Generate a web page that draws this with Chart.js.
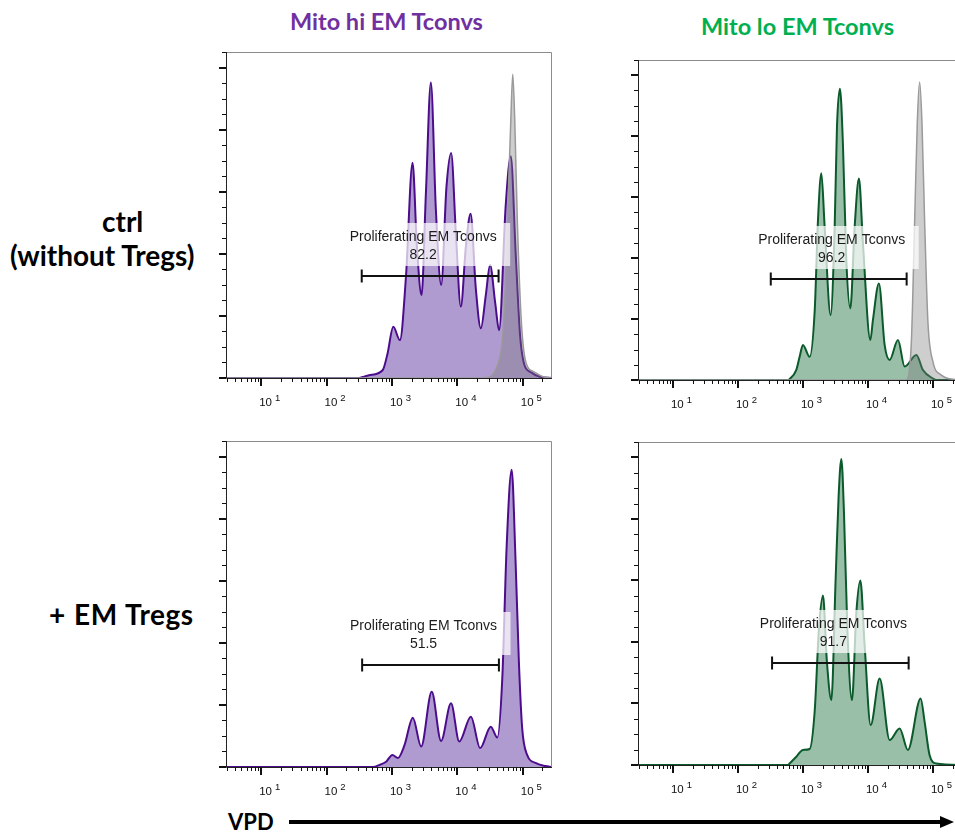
<!DOCTYPE html>
<html>
<head>
<meta charset="utf-8">
<script src="https://cdn.jsdelivr.net/npm/chart.js@4.4.1/dist/chart.umd.min.js"></script>
<style>
  html, body { margin: 0; padding: 0; background: #fff; }
  body { width: 955px; height: 836px; overflow: hidden; position: relative; }
  .panel { position: absolute; }
  .txt { position: absolute; font-family: Lato, "Open Sans", sans-serif; font-weight: 700; white-space: nowrap; line-height: 1; }
  .col-title { font-size: 23.5px; }
  .row-label { font-size: 28px; color: #000; }
  #axisLine { position: absolute; left: 289px; top: 820px; width: 652px; height: 4px; background: #000; }
  #axisHead { position: absolute; left: 940px; top: 816px; width: 0; height: 0;
              border-top: 6px solid transparent; border-bottom: 6px solid transparent; border-left: 14px solid #000; }
</style>
</head>
<body>
<div class="txt col-title" style="left:290px; top:10px; color:#7030A0;">Mito hi EM Tconvs</div>
<div class="txt col-title" style="left:701px; top:15px; color:#00B050;">Mito lo EM Tconvs</div>
<div class="txt row-label" style="left:102px; top:207px;">ctrl</div>
<div class="txt row-label" style="left:10px; top:241px;">(without Tregs)</div>
<div class="txt row-label" style="left:49px; top:600px; word-spacing:1px; letter-spacing:0.5px;">+ EM Tregs</div>
<div class="txt" style="left:228px; top:811px; font-size:22px;">VPD</div>
<div id="axisLine"></div>
<div id="axisHead"></div>

<div class="panel" style="left:214px; top:48px;"><canvas id="cTL" width="350" height="370"></canvas></div>
<div class="panel" style="left:626px; top:56px;"><canvas id="cTR" width="348" height="364"></canvas></div>
<div class="panel" style="left:214px; top:437px;"><canvas id="cBL" width="350" height="370"></canvas></div>
<div class="panel" style="left:626px; top:438px;"><canvas id="cBR" width="348" height="367"></canvas></div>

<script>
// VPD intensity (x) and % of max count (y) for each histogram.
// Mito hi EM Tconvs, no Tregs
const hiCtrlX = [2.9, 316, 355, 447, 720, 857, 1047, 1324, 1637, 2065, 2410, 2833, 3305, 3936, 4695, 5662, 6823, 8040, 9490, 11300, 13490, 15960, 19140, 22860, 27230, 31620, 38000, 43450, 54950, 65610, 78160, 90970, 104700, 132400, 188400, 280000];
const hiCtrlY = [0, 0, 0.3, 0.9, 2.5, 7.9, 16.5, 12.2, 32.6, 69.3, 42.3, 26.7, 59.6, 95.2, 54.2, 30, 61.7, 72.5, 46.7, 23, 42.3, 52.9, 28.9, 16, 26.7, 36.4, 24, 15.4, 55.8, 71.4, 39.7, 13.8, 4.6, 1.9, 0.3, 0];
// Undivided reference, Mito hi
const hiRefX = [2.9, 25650, 40930, 51760, 58210, 65610, 70310, 75510, 82750, 95290, 111200, 148900, 211300, 280000];
const hiRefY = [0, 0, 4, 20, 50, 82.7, 97.8, 82.7, 50, 18, 5.2, 2, 0.3, 0];
// Mito lo EM Tconvs, no Tregs
const loCtrlX = [2.9, 590, 620, 791, 889, 1000, 1268, 1519, 1704, 1919, 2158, 2667, 3076, 3337, 3706, 4121, 4652, 5358, 6237, 7273, 8380, 10890, 11940, 14760, 18070, 21580, 28970, 36740, 55590, 70150, 100000, 112700, 280000];
const loCtrlY = [0, 0, 0.3, 3.3, 7.6, 11.5, 7.6, 23, 52.5, 67.8, 50.3, 21.3, 50, 83, 95.6, 77.6, 39.3, 23.5, 50, 66.1, 44.8, 13.1, 19.7, 31.7, 11.5, 6.6, 13.1, 4.4, 8.2, 3.3, 0.5, 0, 0];
// Undivided reference, Mito lo
const loRefX = [2.9, 38990, 46590, 52290, 57490, 62390, 67720, 74510, 83690, 100000, 134600, 180700, 280000];
const loRefY = [0, 0, 12.6, 52, 84.7, 97.8, 84.7, 52, 19.1, 6, 1.6, 0.4, 0];
// Mito hi EM Tconvs + EM Tregs
const hiTregX = [2.9, 514, 650, 822, 1014, 1234, 1559, 2084, 2797, 4055, 5633, 8000, 10690, 16100, 22300, 32430, 40830, 48640, 56750, 67610, 77800, 87300, 97960, 116700, 156600, 222300, 280000];
const hiTregY = [0, 0, 0.7, 1.8, 3.9, 2.9, 7.1, 15.9, 6.6, 24.2, 8.4, 20.5, 8.2, 16.2, 6.1, 13, 9.5, 28.5, 71.2, 95.7, 65.8, 33.8, 12.5, 3.9, 1.3, 0.3, 0];
// Mito lo EM Tconvs + EM Tregs
const loTregX = [2.9, 590, 624, 791, 1000, 1268, 1514, 1763, 2031, 2339, 2735, 3186, 3542, 3899, 4276, 4822, 5675, 6637, 7643, 8897, 11010, 15140, 21580, 30760, 41210, 64710, 74510, 88920, 112700, 280000];
const loTregY = [0, 0, 0.5, 2.7, 4.9, 5.2, 17.3, 44.3, 55.1, 33.5, 21.1, 60.6, 87.6, 99.5, 82.2, 44.3, 21.1, 49.7, 60, 38.9, 13, 28.1, 8.1, 11.9, 4.9, 21.6, 14, 3.2, 0.5, 0];

// "Proliferating EM Tconvs" gate: [low, high] VPD bounds and % of events inside
const gateLabel = 'Proliferating EM Tconvs';
const gateHiCtrl = [345, 42700], pctHiCtrl = '82.2';
const gateLoCtrl = [320, 39400], pctLoCtrl = '96.2';
const gateHiTreg = [350, 43200], pctHiTreg = '51.5';
const gateLoTreg = [335, 42300], pctLoTreg = '91.7';
const gateLevel = 33;

// Axis ticks
const decadeTicks = [10, 100, 1000, 10000, 100000];
const decadeExps = ['1', '2', '3', '4', '5'];
const countMajor = [0, 20, 40, 60, 80, 100];

const X_MIN = 2.9, X_MAX = 280000, Y_MAX = 105;

const purple = { line: '#4b0d8c', fill: '#b09bd0' };
const green  = { line: '#0b5a2c', fill: '#99bfa9' };
const grey   = { line: '#9a9a9a', fill: 'rgba(120,120,120,0.36)' };

function pts(xs, ys) { return xs.map((x, i) => ({ x: x, y: ys[i] })); }

const flowAxes = {
  id: 'flowAxes',
  afterDatasetsDraw(chart, args, opts) {
    const ctx = chart.ctx, a = chart.chartArea;
    const xs = chart.scales.x, ys = chart.scales.y;
    ctx.save();
    // frame
    ctx.lineWidth = 1;
    ctx.strokeStyle = '#8c8c8c';
    ctx.beginPath();
    ctx.moveTo(a.left, a.top + 0.5); ctx.lineTo(a.right - 0.5, a.top + 0.5); ctx.lineTo(a.right - 0.5, a.bottom);
    ctx.stroke();
    ctx.strokeStyle = '#222';
    ctx.beginPath();
    ctx.moveTo(a.left + 0.5, a.top); ctx.lineTo(a.left + 0.5, a.bottom + 0.5); ctx.lineTo(a.right, a.bottom + 0.5);
    ctx.stroke();
    // count ticks (left)
    ctx.strokeStyle = '#111';
    for (let v = 0; v <= Y_MAX; v += 5) {
      const major = countMajor.includes(v);
      const y = Math.round(ys.getPixelForValue(v)) + (major ? 0 : 0.5);
      ctx.lineWidth = major ? 2 : 1;
      ctx.beginPath();
      ctx.moveTo(a.left - (major ? 7 : 4), y); ctx.lineTo(a.left, y);
      ctx.stroke();
    }
    // VPD ticks (bottom)
    const tickVals = [];
    [1, 10, 100, 1000, 10000, 100000].forEach(d => { for (let m = 1; m <= 9; m++) tickVals.push(m * d); });
    tickVals.forEach(v => {
      if (v < X_MIN || v > X_MAX) return;
      const major = decadeTicks.includes(v);
      const x = Math.round(xs.getPixelForValue(v)) + (major ? 0 : 0.5);
      ctx.lineWidth = major ? 2 : 1;
      ctx.beginPath();
      ctx.moveTo(x, a.bottom); ctx.lineTo(x, a.bottom + (major ? 8 : 4));
      ctx.stroke();
    });
    // decade labels: 10 with raised exponent
    ctx.fillStyle = '#111';
    ctx.textBaseline = 'alphabetic';
    ctx.textAlign = 'left';
    decadeTicks.forEach((v, i) => {
      const x = xs.getPixelForValue(v) - 2;
      const yb = a.bottom + 27.5;
      ctx.font = '11.5px "Liberation Sans", Arial, sans-serif';
      ctx.fillText('10', x, yb);
      const w = ctx.measureText('10').width;
      ctx.font = '9.5px "Liberation Sans", Arial, sans-serif';
      ctx.fillText(decadeExps[i], x + w + 3, yb - 5);
    });
    // gate with its label
    const g = opts.gate;
    const gy = Math.round(ys.getPixelForValue(gateLevel));
    const x1 = xs.getPixelForValue(g[0]), x2 = xs.getPixelForValue(g[1]);
    const cx = (x1 + x2) / 2 - 7;
    ctx.fillStyle = 'rgba(255,255,255,0.72)';
    ctx.fillRect(cx - 87, gy - 53, 174, 43);
    ctx.fillStyle = '#1c1c1c';
    ctx.textAlign = 'center';
    ctx.font = '14px "Liberation Sans", Arial, sans-serif';
    ctx.fillText(gateLabel, cx, gy - 35);
    ctx.fillText(opts.pct, cx, gy - 17);
    ctx.strokeStyle = '#111';
    ctx.lineWidth = 2;
    ctx.beginPath();
    ctx.moveTo(x1, gy); ctx.lineTo(x2, gy);
    ctx.moveTo(x1, gy - 6.5); ctx.lineTo(x1, gy + 6.5);
    ctx.moveTo(x2, gy - 6.5); ctx.lineTo(x2, gy + 6.5);
    ctx.stroke();
    ctx.restore();
  }
};

function histogram(id, series, gate, pct, pad) {
  const datasets = series.map((s, i) => ({
    data: pts(s.x, s.y),
    borderColor: s.c.line,
    backgroundColor: s.c.fill,
    borderWidth: s.w,
    fill: 'origin',
    pointRadius: 0,
    cubicInterpolationMode: 'monotone',
    order: series.length - i
  }));
  new Chart(document.getElementById(id), {
    type: 'line',
    data: { datasets: datasets },
    options: {
      responsive: false,
      animation: false,
      devicePixelRatio: 1,
      events: [],
      layout: { padding: pad },
      plugins: { legend: { display: false }, tooltip: { enabled: false }, flowAxes: { gate: gate, pct: pct } },
      scales: {
        x: { type: 'logarithmic', min: X_MIN, max: X_MAX, display: false },
        y: { type: 'linear', min: 0, max: Y_MAX, display: false }
      }
    },
    plugins: [flowAxes]
  });
}

histogram('cTL', [
  { x: hiCtrlX, y: hiCtrlY, c: purple, w: 2 },
  { x: hiRefX, y: hiRefY, c: grey, w: 1.5 }
], gateHiCtrl, pctHiCtrl, { left: 12, right: 12, top: 4, bottom: 40 });

histogram('cTR', [
  { x: loCtrlX, y: loCtrlY, c: green, w: 2 },
  { x: loRefX, y: loRefY, c: grey, w: 1.5 }
], gateLoCtrl, pctLoCtrl, { left: 12, right: 12, top: 4, bottom: 40 });

histogram('cBL', [
  { x: hiTregX, y: hiTregY, c: purple, w: 2 }
], gateHiTreg, pctHiTreg, { left: 12, right: 12, top: 4, bottom: 40 });

histogram('cBR', [
  { x: loTregX, y: loTregY, c: green, w: 2 }
], gateLoTreg, pctLoTreg, { left: 12, right: 12, top: 4, bottom: 40 });
</script>
</body>
</html>
